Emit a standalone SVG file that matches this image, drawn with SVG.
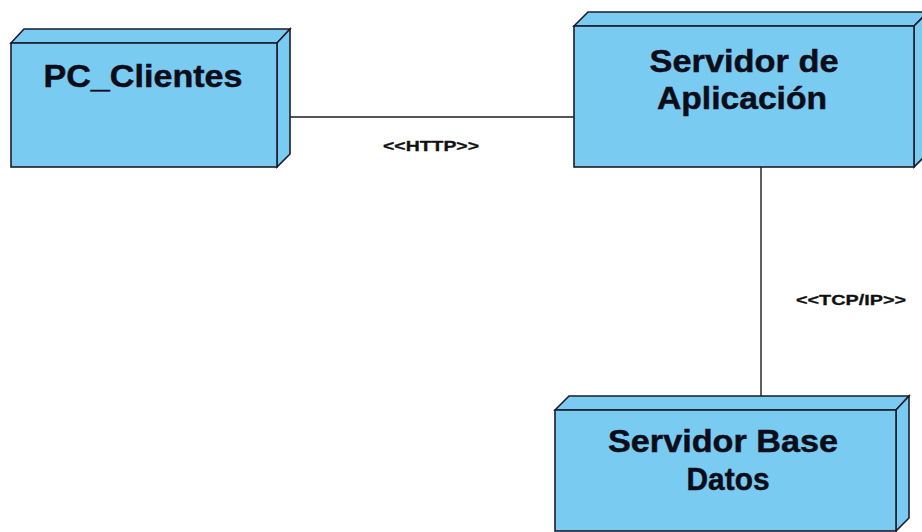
<svg xmlns="http://www.w3.org/2000/svg" width="922" height="532" viewBox="0 0 922 532">
<style>
.face{fill:#7ACBF1;stroke:#1c1c2c;stroke-width:1.6;stroke-linejoin:miter}
.title{font-family:"Liberation Sans",Arial,sans-serif;font-weight:bold;font-size:32px;fill:#0d0d1a;stroke:#0d0d1a;stroke-width:0.5;text-anchor:middle}
.lbl{font-family:"Liberation Sans",Arial,sans-serif;font-weight:bold;font-size:14px;fill:#111;stroke:#111;stroke-width:0.3;text-anchor:middle}
.conn{stroke:#1c1c1c;stroke-width:1.4;fill:none}
</style>
<rect width="922" height="532" fill="#ffffff"/>
<g id="connectors">
<line class="conn" x1="290" y1="117" x2="574" y2="117"/>
<text class="lbl" x="431" y="151" textLength="96" lengthAdjust="spacingAndGlyphs">&lt;&lt;HTTP&gt;&gt;</text>
<line class="conn" x1="761" y1="167" x2="761" y2="396"/>
<text class="lbl" x="851" y="305" textLength="110" lengthAdjust="spacingAndGlyphs">&lt;&lt;TCP/IP&gt;&gt;</text>
</g>
<g id="pc_clientes">
<polygon class="face" points="11,43 24,29 290,29 277,43"/>
<polygon class="face" points="277,43 290,29 290,154 277,167"/>
<rect class="face" x="11" y="43" width="266" height="124"/>
<text class="title" x="143" y="87" textLength="199" lengthAdjust="spacingAndGlyphs">PC_Clientes</text>
</g>
<g id="servidor_aplicacion">
<polygon class="face" points="574,26 588,12 928,12 914,26"/>
<polygon class="face" points="914,26 928,12 928,153 914,167"/>
<rect class="face" x="574" y="26" width="340" height="141"/>
<text class="title" x="744" y="72" textLength="189" lengthAdjust="spacingAndGlyphs">Servidor de</text>
<text class="title" x="742" y="109" textLength="170" lengthAdjust="spacingAndGlyphs">Aplicación</text>
</g>
<g id="servidor_base_datos">
<polygon class="face" points="555,410 569,396 909,396 896,410"/>
<polygon class="face" points="896,410 909,396 909,518 896,531"/>
<rect class="face" x="555" y="410" width="341" height="121"/>
<text class="title" x="723" y="452" textLength="230" lengthAdjust="spacingAndGlyphs">Servidor Base</text>
<text class="title" x="728" y="490" textLength="83" lengthAdjust="spacingAndGlyphs">Datos</text>
</g>
</svg>
